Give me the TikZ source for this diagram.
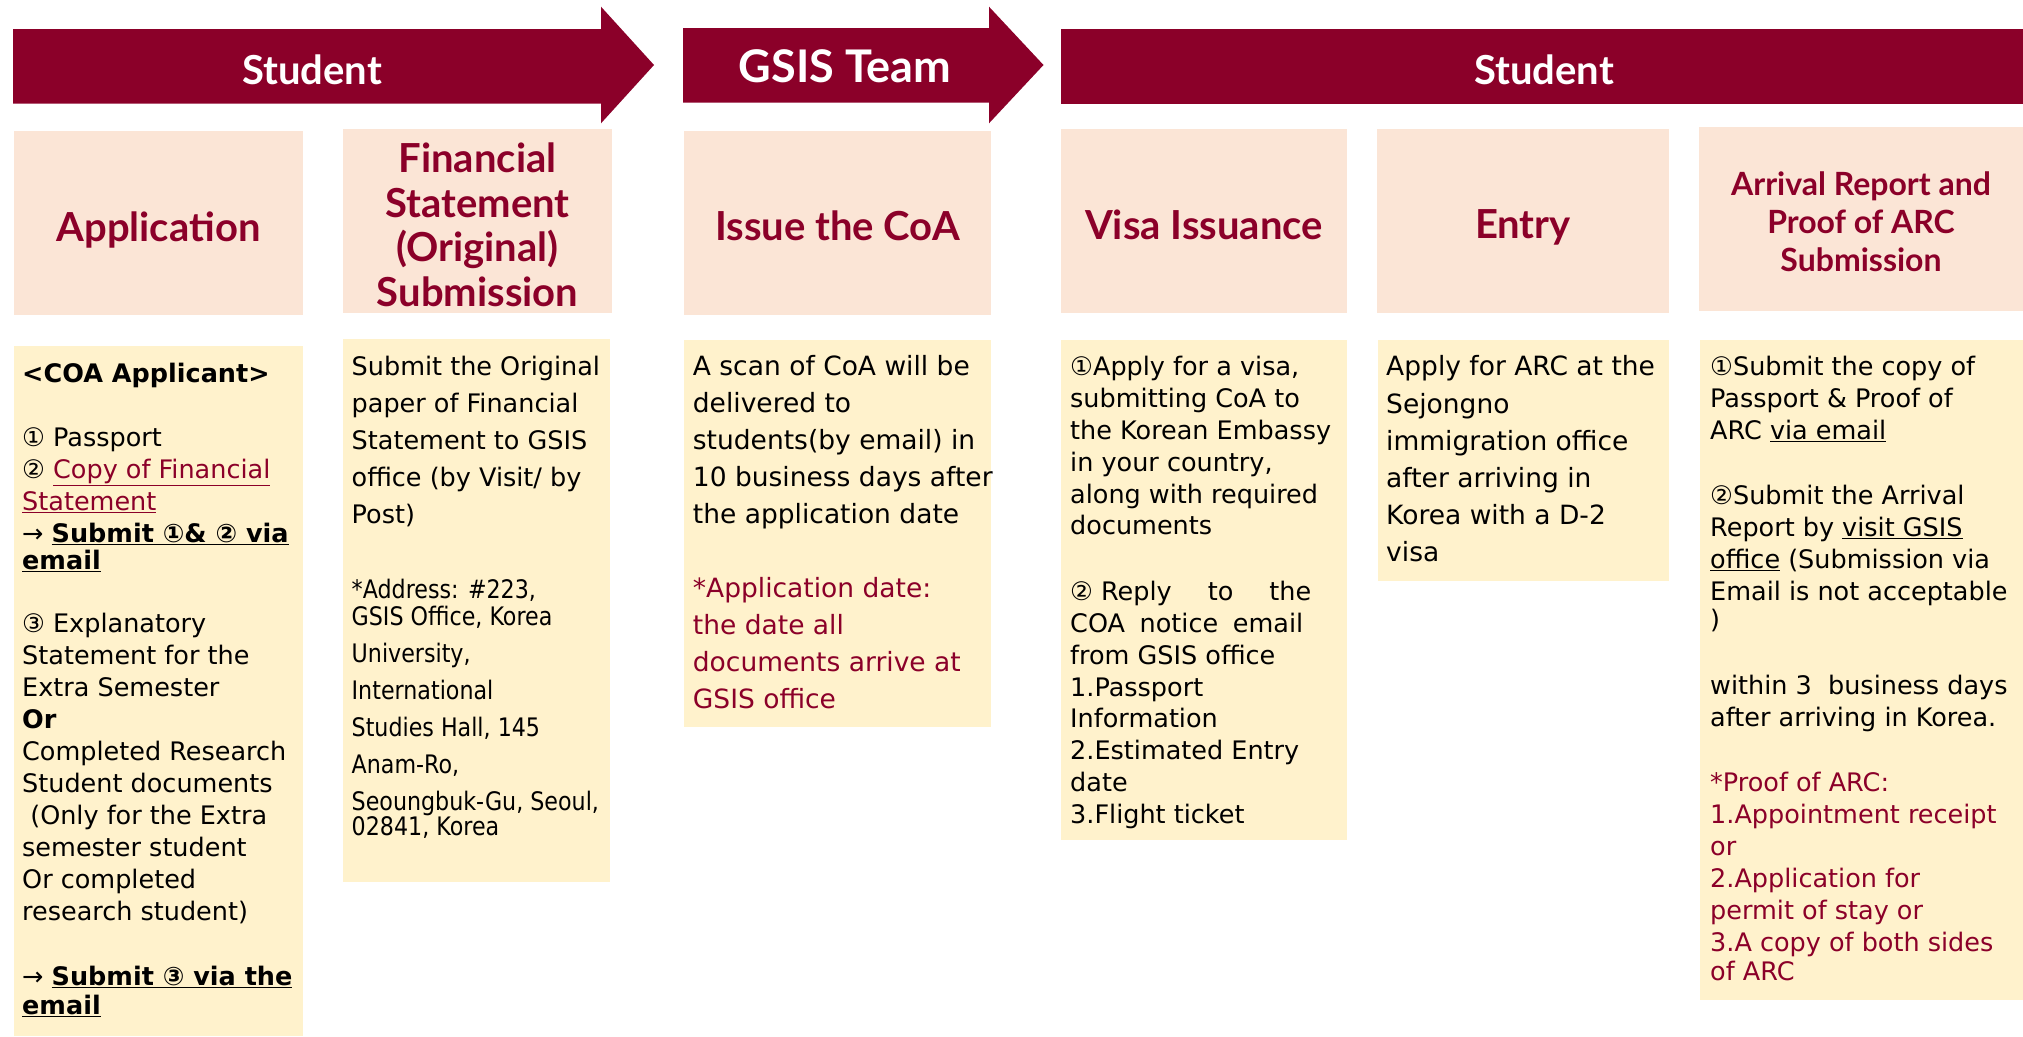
\documentclass[tikz,border=0pt]{standalone}
\usepackage{fontspec}
\setmainfont{DejaVu Sans}
\newfontfamily\hfont{Lato}
\newfontfamily\cfont{DejaVu Sans}[FakeStretch=0.87]
\definecolor{crim}{RGB}{139,0,41}
\definecolor{peach}{RGB}{251,229,214}
\definecolor{cream}{RGB}{255,242,204}
\tikzset{
  arrowshape/.style={fill=crim},
  headbox/.style={fill=peach, inner sep=0pt, text=crim, align=center,
    font=\hfont\bfseries\fontsize{40}{44.5}\selectfont},
  bodybox/.style={fill=cream, inner sep=0pt, anchor=north west},
  bodytext/.style={inner sep=0pt, anchor=north west, align=left, text=black},
  toptext/.style={text=white, inner sep=0pt, font=\hfont\bfseries\fontsize{40}{44}\selectfont},
  headtext/.style={inner sep=0pt, text=crim, align=center, font=\hfont\bfseries\fontsize{40}{44.5}\selectfont},
}
\newcommand{\fl}{\rule{0pt}{24pt}}
\begin{document}
\begin{tikzpicture}[x=1pt,y=-1pt]
\useasboundingbox (0,0) rectangle (2023,1036);
% top arrows
\fill[arrowshape] (13,29) -- (601,29) -- (601,6.7) -- (654,65) -- (601,123.3) -- (601,103.7) -- (13,103.7) -- cycle;
\fill[arrowshape] (683,28) -- (989,28) -- (989,6.7) -- (1043.5,65) -- (989,123.3) -- (989,102.7) -- (683,102.7) -- cycle;
\fill[arrowshape] (1061,29) rectangle (2023,103.7);
\node[toptext] (s1) at (312,70) {Student};
\node[toptext, font=\hfont\bfseries\fontsize{45}{48}\selectfont] (gt) at (845,66) {GSIS Team};
\node[toptext] (s2) at (1544,70) {Student};
% header boxes
\node[headbox, minimum width=289, minimum height=184] (happ) at (158.5,223) {};
\node[headbox, minimum width=269, minimum height=184] (hfin) at (477.5,221) {};
\node[headbox, minimum width=307, minimum height=184] (hcoa) at (837.5,223) {};
\node[headbox, minimum width=286, minimum height=184] (hvisa) at (1204,221) {};
\node[headbox, minimum width=292, minimum height=184] (hentry) at (1523,221) {};
\node[headbox, minimum width=324, minimum height=184] (harr) at (1861,219) {};
\node[headtext] (happt) at (158.5,230) {Application};
\node[headtext] (hfint) at (477.5,225) {Financial\\Statement\\(Original)\\Submission};
\node[headtext] (hcoat) at (837.5,226) {Issue the CoA};
\node[headtext] (hvisat) at (1204,225) {Visa Issuance};
\node[headtext] (hentryt) at (1523,227) {Entry};
\node[headtext, font=\hfont\bfseries\fontsize{32}{38}\selectfont] (harrt) at (1861,221.5) {Arrival Report and\\Proof of ARC\\Submission};
% body boxes
\node[bodybox, minimum width=289, minimum height=690] (bapp) at (14,346) {};
\node[bodybox, minimum width=267, minimum height=543] (bfin) at (343,339) {};
\node[bodybox, minimum width=307, minimum height=387] (bcoa) at (684,340) {};
\node[bodybox, minimum width=286, minimum height=500] (bvisa) at (1061,340) {};
\node[bodybox, minimum width=291, minimum height=241] (bentry) at (1378,340) {};
\node[bodybox, minimum width=323, minimum height=660] (barr) at (1700,340) {};
% body texts
\node[bodytext, font=\fontsize{25.5}{32}\selectfont] (tapp) at (22,358) {\fl\textbf{<COA Applicant>}\\[32pt]
① Passport\\
② \textcolor{crim}{\underline{Copy of Financial}}\\
\textcolor{crim}{\underline{Statement}}\\
→ \textbf{\underline{Submit ①\& ② via}}\\[-5pt]
\textbf{\underline{email}}\\[31pt]
③ Explanatory\\
Statement for the\\
Extra Semester\\
\textbf{Or}\\
Completed Research\\
Student documents\\
\ (Only for the Extra\\
semester student\\
Or completed\\
research student)\\[33.5pt]
→ \textbf{\underline{Submit ③ via the}}\\[-3pt]
\textbf{\underline{email}}};
\node[bodytext, font=\fontsize{25.5}{37}\selectfont] (tfin) at (351.5,351) {\fl Submit the Original\\
paper of Financial\\
Statement to GSIS\\
office (by Visit/ by\\
Post)\\[38.5pt]
{\cfont *Address: \#223,}\\[-10pt]
{\cfont GSIS Office, Korea}\\
{\cfont University,}\\
{\cfont International}\\
{\cfont Studies Hall, 145}\\
{\cfont Anam-Ro,}\\
{\cfont Seoungbuk-Gu, Seoul,}\\[-12pt]
{\cfont 02841, Korea}};
\node[bodytext, font=\fontsize{26.5}{37}\selectfont] (tcoa) at (692.7,351) {\fl A scan of CoA will be\\
delivered to\\
students(by email) in\\
10 business days after\\
the application date\\[37pt]
\textcolor{crim}{*Application date:}\\
\textcolor{crim}{the date all}\\
\textcolor{crim}{documents arrive at}\\
\textcolor{crim}{GSIS office}};
\node[bodytext, font=\fontsize{25.5}{31.8}\selectfont] (tvisa) at (1070,351.6) {\fl ①Apply for a visa,\\
submitting CoA to\\
the Korean Embassy\\
in your country,\\
along with required\\
documents\\[34pt]
\makebox[241pt][s]{\mbox{② Reply} to the}\\
\makebox[233pt][s]{COA notice email}\\
from GSIS office\\
1.Passport\\
Information\\
2.Estimated Entry\\
date\\
3.Flight ticket};
\node[bodytext, font=\fontsize{26.5}{37.2}\selectfont] (tentry) at (1386,351.6) {\fl Apply for ARC at the\\
Sejongno\\
immigration office\\
after arriving in\\
Korea with a D-2\\
visa};
\node[bodytext, font=\fontsize{25.5}{32}\selectfont] (tarr) at (1710,351) {\fl ①Submit the copy of\\
Passport \& Proof of\\
ARC \underline{via email}\\[33pt]
②Submit the Arrival\\
Report by \underline{visit GSIS}\\
\underline{office} (Submission via\\
Email is not acceptable\\[-4pt]
)\\[34pt]
within 3\ \ business days\\
after arriving in Korea.\\[33pt]
\textcolor{crim}{*Proof of ARC:}\\
\textcolor{crim}{1.Appointment receipt}\\
\textcolor{crim}{or}\\
\textcolor{crim}{2.Application for}\\
\textcolor{crim}{permit of stay or}\\
\textcolor{crim}{3.A copy of both sides}\\[-3pt]
\textcolor{crim}{of ARC}};
\end{tikzpicture}
\end{document}
